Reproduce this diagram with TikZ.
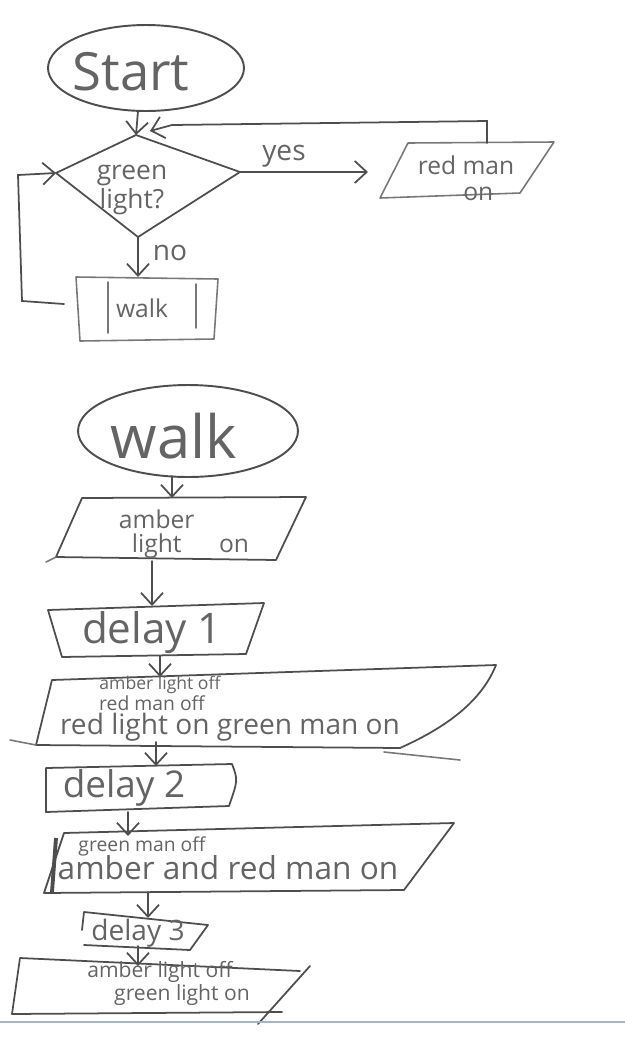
\documentclass[tikz,border=0pt]{standalone}
\usepackage{fontspec}
\setmainfont{Open Sans}
\usetikzlibrary{arrows.meta,shapes.geometric}
\definecolor{pencil}{RGB}{78,78,78}
\definecolor{softpencil}{RGB}{120,120,120}
\definecolor{ink}{RGB}{100,100,100}
\definecolor{rulecol}{RGB}{165,180,202}
\begin{document}
\begin{tikzpicture}[x=0.02cm,y=-0.02cm,
  box/.style={draw=pencil,line width=1pt,line join=round,line cap=round},
  softbox/.style={draw=softpencil,line width=0.9pt,line join=round,line cap=round},
  conn/.style={draw=pencil,line width=1pt,line cap=round,-{Straight Barb[length=2.4mm,width=4.4mm]}},
  lbl/.style={text=ink,inner sep=0pt,align=center},
  oval/.style={draw=pencil,line width=1.1pt,ellipse,inner sep=0pt}
]
\useasboundingbox (0,0) rectangle (625,1039);

% ---------------- first chart ----------------
\node[oval,minimum width=3.92cm,minimum height=1.72cm] (start) at (146,68) {};
\node[lbl,font=\fontsize{30}{32}\selectfont] (starttxt) at (131,72) {Start};
\coordinate (sA) at (138,111);

% decision diamond
\coordinate (dT) at (136,135);
\coordinate (dR) at (240,172);
\coordinate (dB) at (138,237);
\coordinate (dL) at (56,173);
\draw[box] (dT) -- (dR) -- (dB) -- (dL) -- cycle;
\node[lbl,font=\fontsize{15}{16}\selectfont] (dec) at (132,190) {green\\ light?};

\draw[conn] (sA) -- (dT);

% red man on
\coordinate (rTL) at (408,143);
\coordinate (rTR) at (554,142);
\coordinate (rBR) at (520,193);
\coordinate (rBL) at (380,198);
\draw[softbox] (rTL) -- (rTR) -- (rBR) -- (rBL) -- cycle;
\node[lbl,font=\fontsize{14}{15}\selectfont] (redman) at (466,178) {red man\\ \hspace*{1em}on};
\coordinate (rTop) at (487,143);
\coordinate (rUp) at (487,121);
\coordinate (rLeft) at (172,125);
\coordinate (dTr) at (150,131);
\draw[conn] (rTop) -- (rUp) -- (rLeft) -- (dTr);

% yes
\coordinate (yesE) at (368,172);
\draw[conn] (dR) -- (yesE);
\node[lbl,font=\fontsize{16}{17}\selectfont] (yes) at (284,156) {yes};

% walk process
\coordinate (wTL) at (76,277);
\coordinate (wTR) at (218,279);
\coordinate (wBR) at (214,339);
\coordinate (wBL) at (80,341);
\draw[softbox] (wTL) -- (wTR) -- (wBR) -- (wBL) -- cycle;
\draw[softbox] (108,282) -- (108,333);
\draw[softbox] (196,284) -- (196,328);
\node[lbl,font=\fontsize{14}{15}\selectfont] (walkp) at (142,308) {walk};
\coordinate (wkT) at (138,277);
\coordinate (wkL) at (64,304);
\draw[conn] (dB) -- (wkT);
\node[lbl,font=\fontsize{16}{17}\selectfont] (no) at (170,253) {no};
\draw[conn] (wkL) -- (22,301) -- (18,175) -- (dL);

% ---------------- second chart ----------------
\node[oval,minimum width=4.4cm,minimum height=1.84cm] (walk) at (188,431) {};
\node[lbl,font=\fontsize{34}{36}\selectfont] (walktxt) at (174,436) {walk};
\coordinate (wS) at (172,476);

% amber light on
\coordinate (aTL) at (82,498);
\coordinate (aTR) at (306,497);
\coordinate (aBR) at (276,560);
\coordinate (aBL) at (56,557);
\draw[box] (aTL) -- (aTR) -- (aBR) -- (aBL) -- cycle;
\draw[softbox] (46,562) -- (aBL);
\node[lbl,font=\fontsize{14}{13}\selectfont] (amb) at (184,534) {\shortstack{amber\\light}\quad on};
\coordinate (aT) at (172,498);
\draw[conn] (wS) -- (aT);
\coordinate (aB) at (152,561);

% delay 1
\coordinate (d1TL) at (48,610);
\coordinate (d1TR) at (264,603);
\coordinate (d1BR) at (246,654);
\coordinate (d1BL) at (62,657);
\draw[box] (d1TL) -- (d1TR) -- (d1BR) -- (d1BL) -- cycle;
\node[lbl,font=\fontsize{24}{26}\selectfont] (del1) at (152,633) {delay 1};
\coordinate (d1T) at (152,606);
\draw[conn] (aB) -- (d1T);
\coordinate (d1B) at (160,656);

% box 3
\coordinate (cTL) at (52,680);
\coordinate (cTR) at (496,665);
\coordinate (cBR) at (400,748);
\coordinate (cBL) at (36,745);
\draw[box] (cTL) -- (cTR) .. controls (480,705) and (440,730) .. (cBR) -- (cBL) -- cycle;
\draw[softbox] (10,740) -- (cBL);
\draw[softbox] (384,752) -- (460,760);
\node[lbl,font=\fontsize{10}{11}\selectfont] (c1) at (160,685) {amber light off};
\node[lbl,font=\fontsize{11}{12}\selectfont] (c2) at (152,703) {red man off};
\node[lbl,font=\fontsize{16}{17}\selectfont] (c3) at (230,727) {red light on green man on};
\coordinate (cT) at (160,677);
\draw[conn] (d1B) -- (cT);
\coordinate (cB) at (156,742);

% delay 2
\coordinate (eTL) at (46,768);
\coordinate (eTR) at (232,764);
\coordinate (eBR) at (229,806);
\coordinate (eBL) at (46,812);
\draw[box] (eTL) -- (eTR) .. controls (238,780) .. (eBR) -- (eBL) -- cycle;
\node[lbl,font=\fontsize{21}{23}\selectfont] (del2) at (124,788) {delay 2};
\coordinate (eT) at (156,766);
\draw[conn] (cB) -- (eT);
\coordinate (eB) at (128,812);

% box 5
\coordinate (fTL) at (64,833);
\coordinate (fTR) at (454,823);
\coordinate (fBR) at (404,890);
\coordinate (fBL) at (44,893);
\draw[box] (fTL) -- (fTR) -- (fBR) -- (fBL) -- cycle;
\draw[draw=pencil,line width=2.2pt] (56,838) -- (52,892);
\node[lbl,font=\fontsize{11}{12}\selectfont] (f1) at (142,846) {green man off};
\node[lbl,font=\fontsize{18}{19}\selectfont] (f2) at (228,868) {amber and red man on};
\coordinate (fT) at (128,836);
\draw[conn] (eB) -- (fT);
\coordinate (fB) at (148,892);

% delay 3
\coordinate (gTL) at (84,912);
\coordinate (gTR) at (208,925);
\coordinate (gBR) at (190,950);
\coordinate (gBL) at (84,945);
\draw[box] (82,930) -- (gTL) -- (gTR) -- (gBR) -- (gBL);
\node[lbl,font=\fontsize{16}{17}\selectfont] (del3) at (138,933) {delay 3};
\coordinate (gT) at (148,918);
\draw[conn] (fB) -- (gT);
\coordinate (gB) at (138,946);

% box 7
\coordinate (hTL) at (20,958);
\coordinate (hTR) at (300,971);
\coordinate (hBR) at (282,1012);
\coordinate (hBL) at (12,1014);
\draw[box] (hTR) -- (hTL) -- (hBL) -- (hBR);
\draw[box] (310,966) -- (258,1024);
\node[lbl,font=\fontsize{12}{13}\selectfont] (h1) at (160,972) {amber light off};
\node[lbl,font=\fontsize{12}{13}\selectfont] (h2) at (182,995) {green light on};
\coordinate (hT) at (138,966);
\draw[conn] (gB) -- (hT);

% bottom rule
\draw[rulecol,line width=1pt] (0,1022) -- (625,1022);
\end{tikzpicture}
\end{document}
